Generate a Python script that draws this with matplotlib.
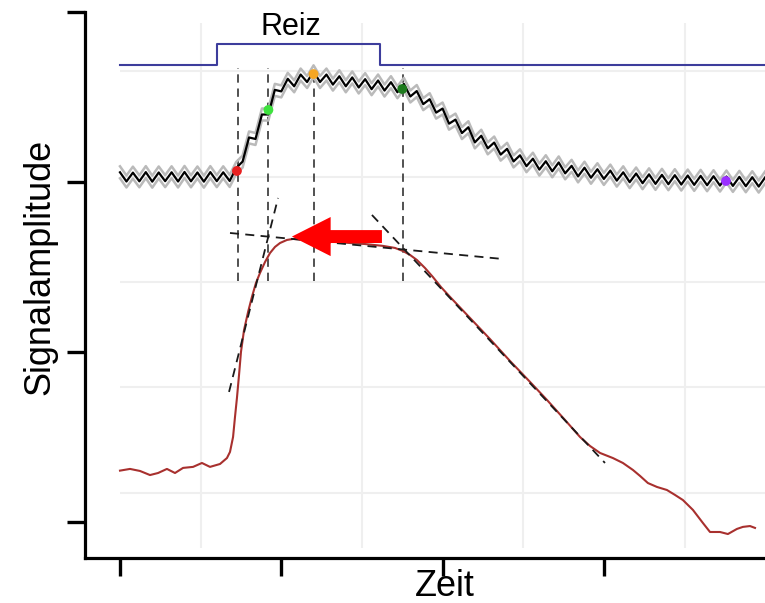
import numpy as np
import matplotlib.pyplot as plt
import matplotlib.transforms as mtransforms
from matplotlib.patches import Rectangle, FancyArrow

plt.rcParams['font.family'] = ['Liberation Sans', 'DejaVu Sans']

t_roh = np.arange(0, 404, 4)
roh = [205.7, 200.3, 205.5, 200.4, 205.8, 200.2, 205.6, 200.5, 205.7, 200.3,
       205.9, 200.4, 205.6, 200.2, 205.8, 200.5, 205.7, 200.6, 208.2, 212.0,
       226.2, 225.3, 239.7, 239.7, 254.2, 253.3, 260.7, 256.3, 263.2, 258.8,
       265.1, 258.8, 263.2, 257.3, 262.2, 256.3, 261.5, 255.6, 260.5, 254.6,
       259.7, 253.8, 258.7, 252.8, 257.7, 250.3, 253.5, 245.8, 248.7, 240.8,
       243.2, 234.3, 236.7, 228.8, 232.2, 223.3, 227.2, 219.8, 223.2, 216.1,
       219.5, 212.1, 215.7, 209.3, 213.7, 207.3, 212.2, 206.3, 211.5, 205.1,
       209.5, 203.3, 208.4, 202.5, 207.5, 201.8, 206.7, 200.8, 205.7, 199.9,
       205.0, 199.3, 204.5, 198.9, 204.2, 198.7, 204.0, 198.5, 203.8, 198.3,
       203.6, 198.1, 203.4, 197.9, 203.2, 197.7, 203.0, 197.5, 202.8, 197.3,
       202.7]

# Gefiltertes Signal
t_filt = [0, 6.2, 12.4, 18.6, 23.6, 29.1, 34.1, 39.1, 45.3, 50.8, 55.8, 62.0,
          66.3, 68.2, 70.1, 71.3, 72.5, 73.8, 75.0, 76.9, 79.4, 81.8, 84.3,
          86.8, 89.9, 93.0, 96.1, 99.2, 103.5, 107.3, 114.7, 122.1, 133.3,
          142.6, 151.9, 163.1, 170.5, 175.4, 179.8, 184.1, 189.1, 194.0, 199.0,
          204.6, 217.0, 229.4, 241.8, 254.2, 264.7, 275.9, 285.2, 291.4, 297.6,
          305.6, 311.8, 318.0, 322.4, 327.3, 332.9, 339.1, 344.1, 349.0, 355.2,
          361.4, 365.8, 372.0, 376.9, 382.5, 386.2, 390.6, 393.7]
filt = [30.2, 31.2, 30.0, 27.6, 28.8, 31.2, 28.8, 31.8, 32.4, 34.7, 32.4, 34.1,
        37.6, 41.2, 50.0, 61.8, 72.9, 86.5, 100.0, 112.9, 123.5, 132.4, 140.6,
        146.5, 152.9, 158.2, 161.8, 164.1, 165.9, 166.5, 165.9, 165.3, 164.7,
        164.1, 163.5, 162.4, 161.2, 159.4, 157.1, 154.1, 149.4, 144.1, 138.2,
        132.4, 120.0, 107.6, 94.7, 82.4, 71.8, 60.0, 50.0, 44.7, 40.6,
        37.6, 34.7, 30.6, 27.1, 22.9, 20.6, 18.8, 15.9, 12.9, 7.1,
        -0.6, -5.9, -5.9, -7.1, -4.1, -2.9, -2.4, -3.5]

# Reiz (Stufe)
reiz_t = [0, 60.4, 161.2, 430]
reiz_y = [268.8, 281.2, 268.8, 268.8]

# markierte Punkte
punkt_t = [72.5, 92, 120, 175, 375.7]
punkt_y = [206.5, 242.4, 263.5, 254.7, 200.6]
punkt_farbe = ['#e82020', '#3ee23e', '#f5a623', '#1d7a1d', '#9b30ff']

# senkrechte Hilfslinien
linie_t = [73, 92, 120, 175.5]
linie_oben = [267, 267, 262, 267]
linie_unten = 141.8

# Tangenten
tangente_t = [(67.6, 98.0), (68.2, 237.4), (156.2, 300.7)]
tangente_y = [(76.5, 190.6), (170.0, 154.7), (180.6, 34.7)]

# Gitter
gitter_t = [0, 50, 100, 150, 200, 250, 300, 350]
gitter_y = [17.1, 79.4, 141.2, 202.9, 265.3]

fig = plt.figure(figsize=(7.65, 6.03), dpi=100)
ax = fig.add_axes([85 / 765, 1 - 558 / 603, 720 / 765, 546 / 603])
ax.set_xlim(-21.7, 424.7)
ax.set_ylim(-21.2, 300)

for s in ['top', 'right']:
    ax.spines[s].set_visible(False)
for s in ['left', 'bottom']:
    ax.spines[s].set_linewidth(2.3)
ax.set_xticks([0, 100, 200, 300])
ax.set_yticks([0, 100, 200, 300])
ax.set_xticklabels([])
ax.set_yticklabels([])
ax.tick_params(which='major', length=13, width=2.4, direction='out')
ax.set_xticks(gitter_t, minor=True)
ax.set_yticks(gitter_y, minor=True)
ax.tick_params(which='minor', length=0)
ax.grid(which='minor', color='#efefef', linewidth=1.5)
ax.grid(which='major', visible=False)
panel = Rectangle((0, -15.3), 430, 308.8, transform=ax.transData)
for tk in ax.xaxis.get_minor_ticks() + ax.yaxis.get_minor_ticks():
    tk.gridline.set_clip_path(panel)

ax.plot(reiz_t, reiz_y, drawstyle='steps-post', color='#3d3d9c', lw=1.5)
ax.text(106, 291.2, 'Reiz', fontsize=22, ha='center', va='center')

for x, y1 in zip(linie_t, linie_oben):
    ax.plot([x, x], [linie_unten, y1], color='#333333', lw=1.2,
            linestyle=(0, (5, 3.5)), zorder=3)

for dy in (6, -6):
    tr = mtransforms.offset_copy(ax.transData, fig=fig, x=0, y=dy, units='dots')
    ax.plot(t_roh, roh, color='#bababa', lw=1.8, transform=tr,
            solid_joinstyle='round', zorder=4)
ax.plot(t_roh, roh, color='black', lw=1.6, solid_joinstyle='round', zorder=5)
ax.scatter(punkt_t, punkt_y, c=punkt_farbe, s=50, zorder=6, linewidths=0)

ax.plot(t_filt, filt, color='#a8302e', lw=1.5, zorder=5)
for xs, ys in zip(tangente_t, tangente_y):
    ax.plot(xs, ys, color='#1a1a1a', lw=1.3, linestyle=(0, (5, 3.5)), zorder=6)

pfeil = FancyArrow(162.4, 167.9, -55.8, 0, width=7.6, head_width=23,
                   head_length=24, length_includes_head=True,
                   color='#ff0000', lw=0, zorder=7)
ax.add_patch(pfeil)

ax.set_xlabel('Zeit', fontsize=26)
ax.set_ylabel('Signalamplitude', fontsize=26)
ax.xaxis.label.set_va('center')
ax.yaxis.label.set_va('center')
ax.xaxis.set_label_coords(0.5, (558 - 586) / 546)
ax.yaxis.set_label_coords((40 - 85) / 720, (558 - 267) / 546)

fig.savefig('out.png', dpi=100)
